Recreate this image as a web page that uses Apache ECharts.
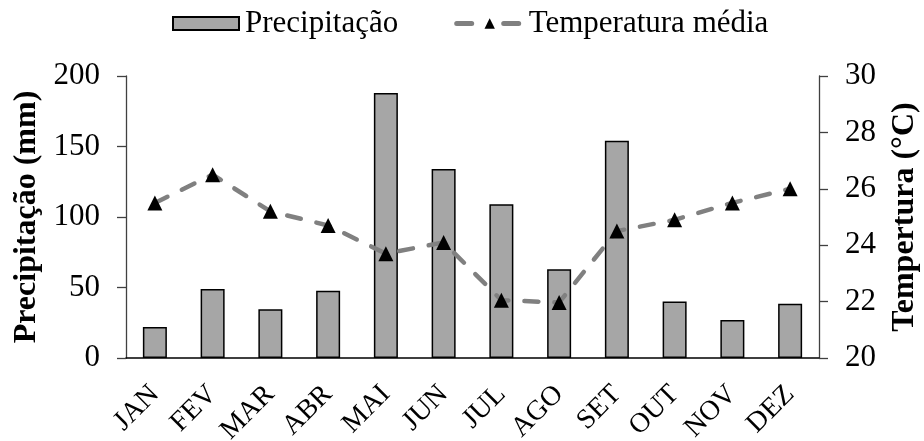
<!DOCTYPE html>
<html>
<head>
<meta charset="utf-8">
<script src="https://cdn.jsdelivr.net/npm/echarts@6/dist/echarts.min.js"></script>
<style>
html,body{margin:0;padding:0;background:#fff;}
#chart{width:924px;height:441px;}
</style>
</head>
<body>
<div id="chart"></div>
<script>
const months = ['JAN','FEV','MAR','ABR','MAI','JUN','JUL','AGO','SET','OUT','NOV','DEZ'];
const precipitacao = [22, 49, 34.5, 47.7, 188, 134, 109, 63, 154, 40, 27, 38.5];
const temperatura = [25.5, 26.5, 25.2, 24.7, 23.7, 24.1, 22.05, 21.97, 24.5, 24.9, 25.5, 26.0];

const FONT = '"Liberation Serif", "Times New Roman", serif';
const chart = echarts.init(document.getElementById('chart'), null, {renderer: 'canvas'});
chart.setOption({
  animation: false,
  backgroundColor: '#fff',
  textStyle: {fontFamily: FONT, color: '#000'},
  legend: {
    top: 3,
    left: 167,
    itemWidth: 66,
    itemHeight: 13,
    itemGap: 56,
    textStyle: {fontFamily: FONT, fontSize: 31, color: '#000', padding: [0, 0, 0, 1]},
    data: [
      {name: 'Precipitação', icon: 'rect'},
      {name: 'Temperatura média', lineStyle: {width: 5, type: [15, 32], cap: 'round', color: '#808080'}}
    ]
  },
  grid: {left: 126, right: 105, top: 76, bottom: 83, containLabel: false, outerBoundsMode: 'none'},
  xAxis: {
    type: 'category',
    data: months,
    axisLine: {lineStyle: {color: '#000', width: 1.5}},
    axisTick: {show: false},
    axisLabel: {rotate: 45, fontSize: 28, fontFamily: FONT, color: '#000', margin: 32, interval: 0}
  },
  yAxis: [
    {
      type: 'value', min: 0, max: 200, interval: 50,
      name: 'Precipitação (mm)', nameLocation: 'middle', nameGap: 82,
      nameTextStyle: {fontFamily: FONT, fontSize: 32, fontWeight: 'bold', color: '#000'},
      axisLine: {show: true, lineStyle: {color: '#404040', width: 1.3}},
      axisTick: {show: true, length: 9, lineStyle: {color: '#404040', width: 1.3}},
      splitLine: {show: false},
      axisLabel: {fontSize: 31, fontFamily: FONT, color: '#000', margin: 26}
    },
    {
      type: 'value', min: 20, max: 30, interval: 2, position: 'right',
      name: 'Tempertura (°C)', nameLocation: 'middle', nameGap: 70,
      nameTextStyle: {fontFamily: FONT, fontSize: 32, fontWeight: 'bold', color: '#000'},
      axisLine: {show: true, lineStyle: {color: '#404040', width: 1.3}},
      axisTick: {show: true, length: 9, lineStyle: {color: '#404040', width: 1.3}},
      splitLine: {show: false},
      axisLabel: {fontSize: 31, fontFamily: FONT, color: '#000', margin: 26}
    }
  ],
  series: [
    {
      name: 'Precipitação', type: 'bar', data: precipitacao, barWidth: 24,
      itemStyle: {color: '#a6a6a6', borderColor: '#000', borderWidth: 1.5}
    },
    {
      name: 'Temperatura média', type: 'line', yAxisIndex: 1, data: temperatura,
      symbol: 'triangle', symbolSize: 15,
      itemStyle: {color: '#000'},
      lineStyle: {color: '#808080', width: 4.5, type: [14, 16], cap: 'round'}
    }
  ]
});
</script>
</body>
</html>
